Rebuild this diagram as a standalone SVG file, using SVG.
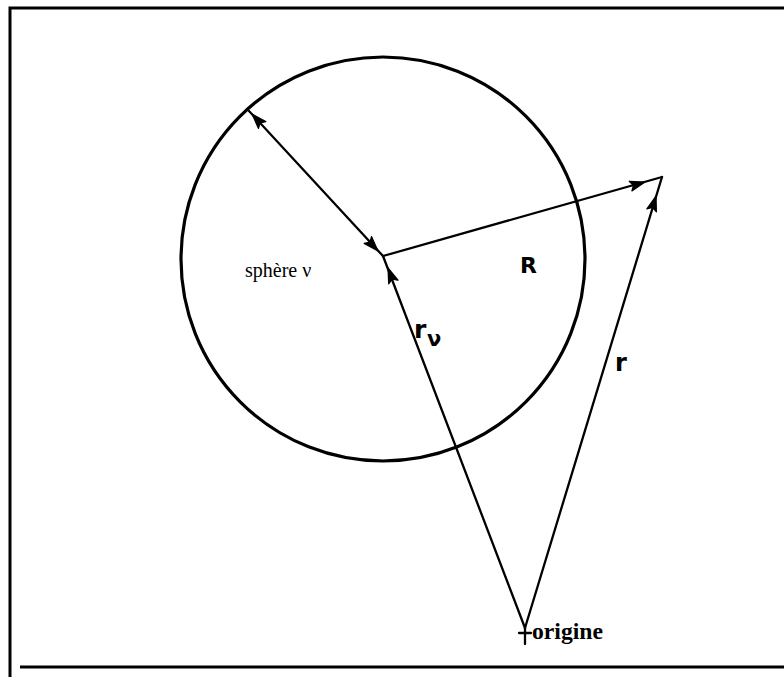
<svg xmlns="http://www.w3.org/2000/svg" width="784" height="677" viewBox="0 0 784 677">
<style>
.ln{stroke:#000;stroke-width:2.3;fill:none;stroke-linecap:round}
.fr{stroke:#000;stroke-width:3;fill:none}
.ah{fill:#000;stroke:#000;stroke-width:1.2;stroke-linejoin:round}
.hand{font-family:"DejaVu Sans",sans-serif;font-weight:bold;fill:#000}
.serif{font-family:"Liberation Serif",serif;fill:#000}
</style>
<defs>
<path id="ah" class="ah" d="M0,0 L-15,-5 L-12,0 L-15,5 Z"/>
</defs>
<rect width="784" height="677" fill="#fff"/>
<g id="frame">
<path class="fr" d="M10,677 L10,8 L784,8"/>
<path class="fr" d="M20,667 L784,667"/>
</g>
<g id="sphere">
<circle cx="383" cy="259" r="202" fill="none" stroke="#000" stroke-width="3.2"/>
<text class="serif" x="245" y="277" font-size="20">sphère ν</text>
</g>
<g id="connectors">
<line class="ln" x1="383" y1="256" x2="249" y2="111"/>
<line class="ln" x1="383" y1="256" x2="662" y2="177"/>
<line class="ln" x1="525" y1="628" x2="383" y2="256"/>
<line class="ln" x1="525" y1="628" x2="662" y2="177"/>
<use href="#ah" transform="translate(252,114) rotate(-132.7)"/>
<use href="#ah" transform="translate(378,251) rotate(47.3)"/>
<use href="#ah" transform="translate(645,182) rotate(-15.8)"/>
<use href="#ah" transform="translate(656,196) rotate(-73.1)"/>
<use href="#ah" transform="translate(388,268) rotate(-110.9)"/>
</g>
<g id="labels">
<text class="hand" x="520" y="273" font-size="22">R</text>
<text class="hand" x="414" y="338" font-size="25">r</text>
<text class="hand" x="427" y="346" font-size="21">ν</text>
<text class="hand" x="615" y="371" font-size="24">r</text>
</g>
<g id="origin">
<path class="ln" d="M525,628 L525,644 M519,633 L531,633"/>
<text class="serif" x="532" y="639" font-size="23" font-weight="bold" textLength="71" lengthAdjust="spacingAndGlyphs">origine</text>
</g>
</svg>
